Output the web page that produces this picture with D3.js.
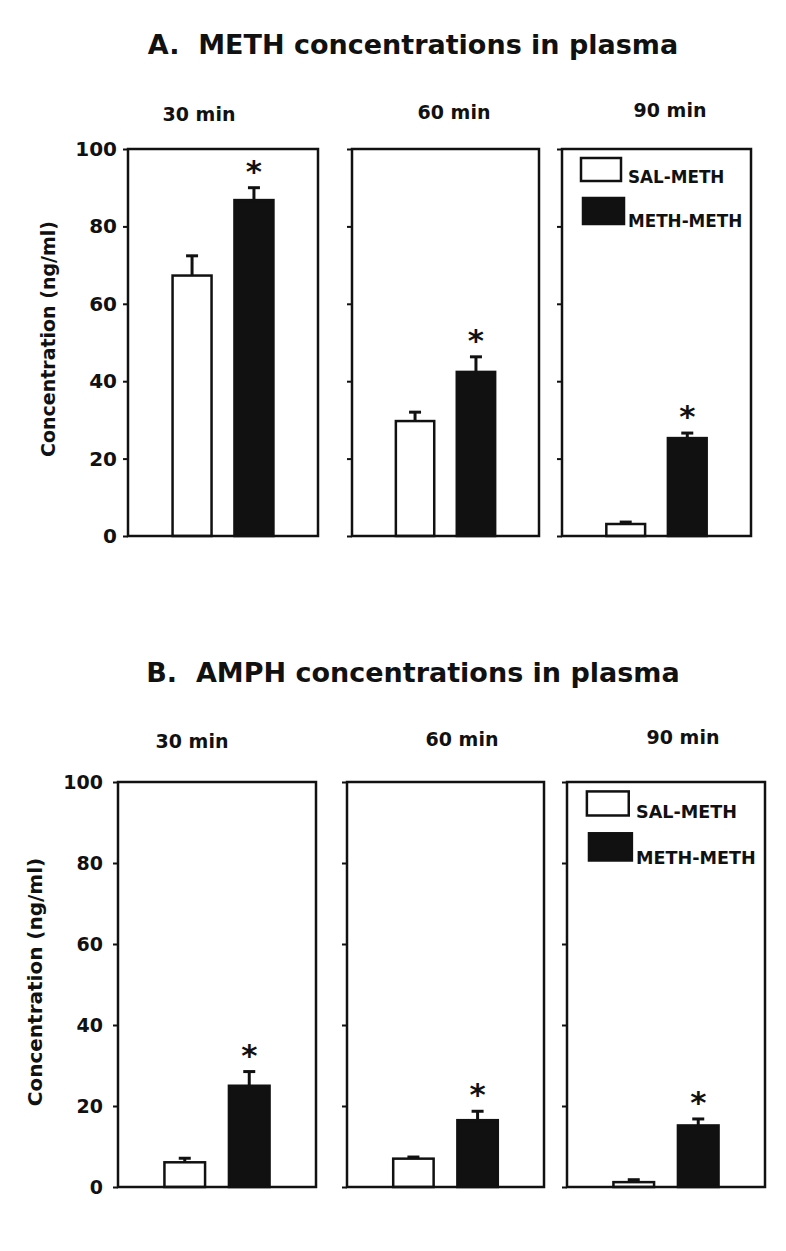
<!DOCTYPE html>
<html><head><meta charset="utf-8">
<script src="https://cdn.jsdelivr.net/npm/d3@7"></script>
<style>
html,body{margin:0;padding:0;background:#fff;}
svg{display:block;}
text{font-family:"DejaVu Sans",sans-serif;font-weight:bold;fill:#111;}
</style>
</head><body>
<svg id="chart" width="786" height="1251"></svg>
<script>
// ---- data ----
const categories = ["30 min", "60 min", "90 min"];
const groups = ["SAL-METH", "METH-METH"];
const yTicks = [0, 20, 40, 60, 80, 100];
const sectionTitles = ["A.  METH concentrations in plasma", "B.  AMPH concentrations in plasma"];
const yLabel = "Concentration (ng/ml)";

const methSalMean  = [67.3, 29.7, 3.1];
const methSalSem   = [5.1, 2.3, 0.5];
const methMethMean = [86.8, 42.4, 25.3];
const methMethSem  = [3.2, 3.9, 1.3];
const methSig      = [true, true, true];

const amphSalMean  = [6.1, 7.0, 1.2];
const amphSalSem   = [1.0, 0.4, 0.6];
const amphMethMean = [25.0, 16.5, 15.2];
const amphMethSem  = [3.5, 2.2, 1.6];
const amphSig      = [true, true, true];

// ---- layout ----
const layouts = [
  {top:149, bottom:536, boxes:[[128,318],[352,539],[562,751]], titleY:54,
   labelX:[199,454,670], labelY:[121,119,117], yLabelX:48, yLabelY:339, yLabelFont:19, tickFont:20, tickPad:6},
  {top:782, bottom:1187, boxes:[[118,316],[347,544],[567,765]], titleY:682,
   labelX:[192,462,683], labelY:[748,746,744], yLabelX:35, yLabelY:982, yLabelFont:20, tickFont:19, tickPad:10}
];

const sections = [
  {title: sectionTitles[0], sal: methSalMean, salSem: methSalSem, meth: methMethMean, methSem: methMethSem, sig: methSig, L: layouts[0]},
  {title: sectionTitles[1], sal: amphSalMean, salSem: amphSalSem, meth: amphMethMean, methSem: amphMethSem, sig: amphSig, L: layouts[1]}
];

const ink = "#111";
const svg = d3.select("#chart");
svg.append("rect").attr("width", 786).attr("height", 1251).attr("fill", "#fff");

sections.forEach(sec => {
  const L = sec.L;
  const g = svg.append("g");
  g.append("text")
    .attr("x", 413).attr("y", L.titleY)
    .attr("text-anchor", "middle")
    .style("font-size", "27px")
    .style("white-space", "pre")
    .text(sec.title);

  const y = d3.scaleLinear().domain([0, 100]).range([L.bottom, L.top]);
  const k = (L.bottom - L.top) / 387;

  g.append("text")
    .attr("transform", `translate(${L.yLabelX},${L.yLabelY}) rotate(-90)`)
    .attr("text-anchor", "middle")
    .attr("dy", "0.35em")
    .style("font-size", L.yLabelFont + "px")
    .text(yLabel);

  categories.forEach((cat, i) => {
    const [x0, x1] = L.boxes[i];
    const w = x1 - x0;
    const pg = g.append("g").attr("transform", `translate(${x0},0)`);

    pg.append("text")
      .attr("x", L.labelX[i] - x0).attr("y", L.labelY[i])
      .attr("text-anchor", "middle")
      .style("font-size", "19px")
      .text(cat);

    const x = d3.scaleBand().domain(groups).range([0, w]).paddingInner(0.37).paddingOuter(0.72);

    const axis = d3.axisLeft(y).tickValues(yTicks).tickSize(5).tickPadding(L.tickPad)
      .tickFormat(i === 0 ? d3.format("d") : () => "");
    const ax = pg.append("g").call(axis);
    ax.select(".domain").remove();
    ax.selectAll("line").attr("stroke", ink).attr("stroke-width", 2);
    ax.selectAll("text")
      .attr("fill", ink)
      .style("font-family", "'DejaVu Sans',sans-serif")
      .style("font-weight", "bold")
      .style("font-size", L.tickFont + "px");

    const vals = [
      {grp: groups[0], m: sec.sal[i], s: sec.salSem[i], fill: "#fff", sig: false},
      {grp: groups[1], m: sec.meth[i], s: sec.methSem[i], fill: ink, sig: sec.sig[i]}
    ];

    // error bars
    vals.forEach(v => {
      const cx = x(v.grp) + x.bandwidth() / 2;
      pg.append("line")
        .attr("x1", cx).attr("x2", cx)
        .attr("y1", y(v.m)).attr("y2", y(v.m + v.s))
        .attr("stroke", ink).attr("stroke-width", 3);
      pg.append("line")
        .attr("x1", cx - 6).attr("x2", cx + 6)
        .attr("y1", y(v.m + v.s)).attr("y2", y(v.m + v.s))
        .attr("stroke", ink).attr("stroke-width", 3);
    });

    // bars
    pg.selectAll("rect.bar").data(vals).join("rect")
      .attr("class", "bar")
      .attr("x", d => x(d.grp))
      .attr("y", d => y(d.m))
      .attr("width", x.bandwidth())
      .attr("height", d => y(0) - y(d.m))
      .attr("fill", d => d.fill)
      .attr("stroke", ink)
      .attr("stroke-width", 2.5);

    // significance
    vals.filter(v => v.sig).forEach(v => {
      pg.append("text")
        .attr("x", x(v.grp) + x.bandwidth() / 2)
        .attr("y", y(v.m + v.s) - 6)
        .attr("text-anchor", "middle")
        .style("font-size", "31px")
        .text("*");
    });

    // frame
    pg.append("rect")
      .attr("x", 0).attr("y", L.top)
      .attr("width", w).attr("height", L.bottom - L.top)
      .attr("fill", "none").attr("stroke", ink).attr("stroke-width", 2.5);

    // legend in last panel
    if (i === categories.length - 1) {
      const lg = pg.append("g").attr("transform", `translate(0,${L.top})`);
      const items = [
        {label: groups[0], fill: "#fff", rx: 19, ry: 9, rw: 40, rh: 23, ty: 34},
        {label: groups[1], fill: ink, rx: 21, ry: 49, rw: 41, rh: 26, ty: 78}
      ];
      items.forEach(it => {
        lg.append("rect")
          .attr("x", it.rx * k).attr("y", it.ry * k)
          .attr("width", it.rw * k).attr("height", it.rh * k)
          .attr("fill", it.fill).attr("stroke", ink).attr("stroke-width", 2.5);
        lg.append("text")
          .attr("x", 66 * k).attr("y", it.ty * k)
          .style("font-size", (16.8 * k) + "px")
          .text(it.label);
      });
    }
  });
});
</script>
</body></html>
